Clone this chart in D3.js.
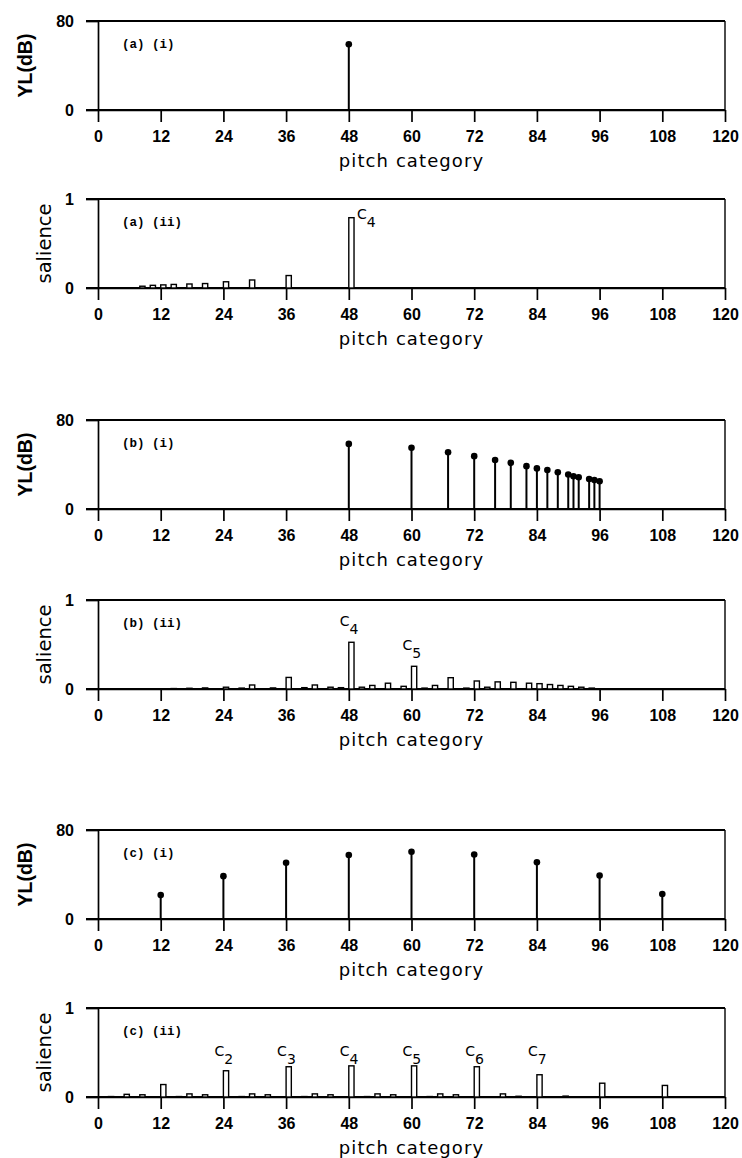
<!DOCTYPE html>
<html>
<head>
<meta charset="utf-8">
<script src="https://cdnjs.cloudflare.com/ajax/libs/d3/7.8.5/d3.min.js"></script>
<style>
  body { margin: 0; background: #fff; }
  .tick text { font-family: "Liberation Sans Narrow", "Arial Narrow", "Liberation Sans", sans-serif; font-weight: bold; font-size: 16px; fill: #000; }
  .tick line, .domain { stroke: #000; stroke-width: 1.7; }
  .tag { font-family: "Liberation Mono", "DejaVu Sans Mono", monospace; font-weight: bold; font-size: 12.5px; }
  .xtitle { font-family: "DejaVu Sans", sans-serif; font-size: 18px; letter-spacing: 1.1px; }
  .note { font-family: "DejaVu Sans", sans-serif; font-size: 14px; }
</style>
</head>
<body>
<div id="chart"></div>
<script>
let width = 742;
let height = 1158;
let left = 98;
let right = 725;
let plotH = 89;

let pitchTicks = [0, 12, 24, 36, 48, 60, 72, 84, 96, 108, 120];

// (a) pure tone
let aLevelPitch = [48];
let aLevelDb = [59];
let aSalPitch = [8, 10, 12, 14, 17, 20, 24, 29, 36, 48];
let aSalValue = [0.02, 0.03, 0.035, 0.04, 0.045, 0.05, 0.07, 0.09, 0.14, 0.79];

// (b) harmonic complex on C4
let bLevelPitch = [48, 60, 67, 72, 76, 79, 82, 84, 86, 88, 90, 91, 92, 94, 95, 96];
let bLevelDb = [58.5, 55, 51, 47.5, 44, 41.5, 38.5, 36.5, 35, 33, 31, 29.5, 28.5, 27, 26, 25];
let bSalPitch = [14, 17, 20, 24, 27, 29, 33, 36, 39, 41, 44, 46, 48, 50, 52, 55, 58, 60, 62, 64, 67, 70, 72, 74, 76, 79, 82, 84, 86, 88, 90, 92, 94];
let bSalValue = [0.005, 0.008, 0.012, 0.02, 0.01, 0.045, 0.012, 0.13, 0.015, 0.045, 0.02, 0.015, 0.525, 0.02, 0.04, 0.065, 0.03, 0.255, 0.01, 0.04, 0.127, 0.01, 0.09, 0.02, 0.08, 0.075, 0.065, 0.06, 0.05, 0.04, 0.03, 0.02, 0.01];

// (c) octave complex
let cLevelPitch = [12, 24, 36, 48, 60, 72, 84, 96, 108];
let cLevelDb = [21.5, 38.5, 50.5, 57.5, 60.5, 58, 51, 39, 22.5];
let cSalPitch = [2, 5, 8, 12, 15, 17, 20, 24, 27, 29, 32, 36, 39, 41, 44, 48, 51, 53, 56, 60, 63, 65, 68, 72, 77, 80, 84, 89, 96, 108];
let cSalValue = [0.005, 0.03, 0.025, 0.14, 0.005, 0.035, 0.025, 0.295, 0.005, 0.035, 0.025, 0.34, 0.005, 0.035, 0.025, 0.35, 0.005, 0.035, 0.025, 0.35, 0.005, 0.035, 0.025, 0.34, 0.035, 0.008, 0.25, 0.01, 0.155, 0.13];

// pitch names written over the peaks
let aNotes = [[48, 4]];
let bNotes = [[48, 4], [60, 5]];
let cNotes = [[24, 2], [36, 3], [48, 4], [60, 5], [72, 6], [84, 7]];

let svg = d3.select('#chart').append('svg')
  .attr('width', width)
  .attr('height', height);

let x = d3.scaleLinear().domain([0, 120]).range([left, right]);

function frame(top, yMax, yTitle, bold, tag) {
  let g = svg.append('g').attr('transform', 'translate(0,' + top + ')');
  let y = d3.scaleLinear().domain([0, yMax]).range([plotH, 0]);

  // top and bottom lines run a bit left of the axis
  g.append('line').attr('x1', left - 12).attr('x2', right)
    .attr('y1', y(yMax)).attr('y2', y(yMax))
    .attr('stroke', '#000').attr('stroke-width', 2);
  g.append('line').attr('x1', right).attr('x2', right)
    .attr('y1', y(yMax)).attr('y2', y(0))
    .attr('stroke', '#000').attr('stroke-width', 1.4);

  g.append('g')
    .attr('transform', 'translate(' + left + ',0)')
    .call(d3.axisLeft(y).tickValues([0, yMax]).tickFormat(d3.format('d'))
      .tickSize(12).tickSizeOuter(0).tickPadding(12));

  g.append('g')
    .attr('transform', 'translate(0,' + y(0) + ')')
    .call(d3.axisBottom(x).tickValues(pitchTicks).tickSize(12).tickSizeOuter(0).tickPadding(9));
  g.append('line').attr('x1', left - 12).attr('x2', right)
    .attr('y1', y(0)).attr('y2', y(0))
    .attr('stroke', '#000').attr('stroke-width', 2);

  g.append('text').attr('class', 'xtitle')
    .attr('x', x(60)).attr('y', y(0) + 57)
    .attr('text-anchor', 'middle')
    .text('pitch category');

  g.append('text')
    .attr('transform', 'translate(' + (bold ? 32 : 51) + ',' + (plotH / 2) + ') rotate(-90)')
    .attr('text-anchor', 'middle')
    .style('font-family', bold ? '"Liberation Sans", sans-serif' : '"DejaVu Sans", sans-serif')
    .style('font-weight', bold ? 'bold' : 'normal')
    .style('font-size', '19.5px')
    .text(yTitle);

  g.append('text').attr('class', 'tag')
    .attr('x', left + 24).attr('y', 27)
    .attr('xml:space', 'preserve')
    .text(tag);

  return { g: g, y: y };
}

function levelPanel(top, tag, pitches, dbs) {
  let p = frame(top, 80, 'YL(dB)', true, tag);
  let pts = pitches.map((d, i) => ({ pitch: d, db: dbs[i] }));
  p.g.selectAll('.stem').data(pts).enter()
    .append('line').attr('class', 'stem')
    .attr('x1', d => x(d.pitch)).attr('x2', d => x(d.pitch))
    .attr('y1', p.y(0)).attr('y2', d => p.y(d.db))
    .attr('stroke', '#000').attr('stroke-width', 2);
  p.g.selectAll('.dot').data(pts).enter()
    .append('circle').attr('class', 'dot')
    .attr('cx', d => x(d.pitch)).attr('cy', d => p.y(d.db))
    .attr('r', 3.3).attr('fill', '#000');
}

function saliencePanel(top, tag, pitches, vals, notes, noteMode) {
  let p = frame(top, 1, 'salience', false, tag);
  let pts = pitches.map((d, i) => ({ pitch: d, v: vals[i] }));
  p.g.selectAll('.bar').data(pts).enter()
    .append('rect').attr('class', 'bar')
    .attr('x', d => x(d.pitch))
    .attr('width', d => x(d.pitch + 1) - x(d.pitch))
    .attr('y', d => p.y(d.v))
    .attr('height', d => p.y(0) - p.y(d.v))
    .attr('fill', '#fff').attr('stroke', '#000').attr('stroke-width', 1.4);

  notes.forEach(n => {
    let v = vals[pitches.indexOf(n[0])];
    let tx, ty;
    if (noteMode === 'side') {
      tx = x(n[0] + 1) + 3;
      ty = p.y(v) + 1;
    } else if (noteMode === 'fixed') {
      tx = x(n[0]) - 9;
      ty = p.y(0.46);
    } else {
      tx = x(n[0]) - 9;
      ty = p.y(v) - 16;
    }
    let t = p.g.append('text').attr('class', 'note').attr('x', tx).attr('y', ty);
    t.append('tspan').text('C');
    t.append('tspan').attr('dy', 8).style('font-size', '14px').text(n[1]);
  });
}

levelPanel(21, '(a) (i)', aLevelPitch, aLevelDb);
saliencePanel(199, '(a) (ii)', aSalPitch, aSalValue, aNotes, 'side');
levelPanel(420, '(b) (i)', bLevelPitch, bLevelDb);
saliencePanel(600, '(b) (ii)', bSalPitch, bSalValue, bNotes, 'above');
levelPanel(830, '(c) (i)', cLevelPitch, cLevelDb);
saliencePanel(1008, '(c) (ii)', cSalPitch, cSalValue, cNotes, 'fixed');
</script>
</body>
</html>
